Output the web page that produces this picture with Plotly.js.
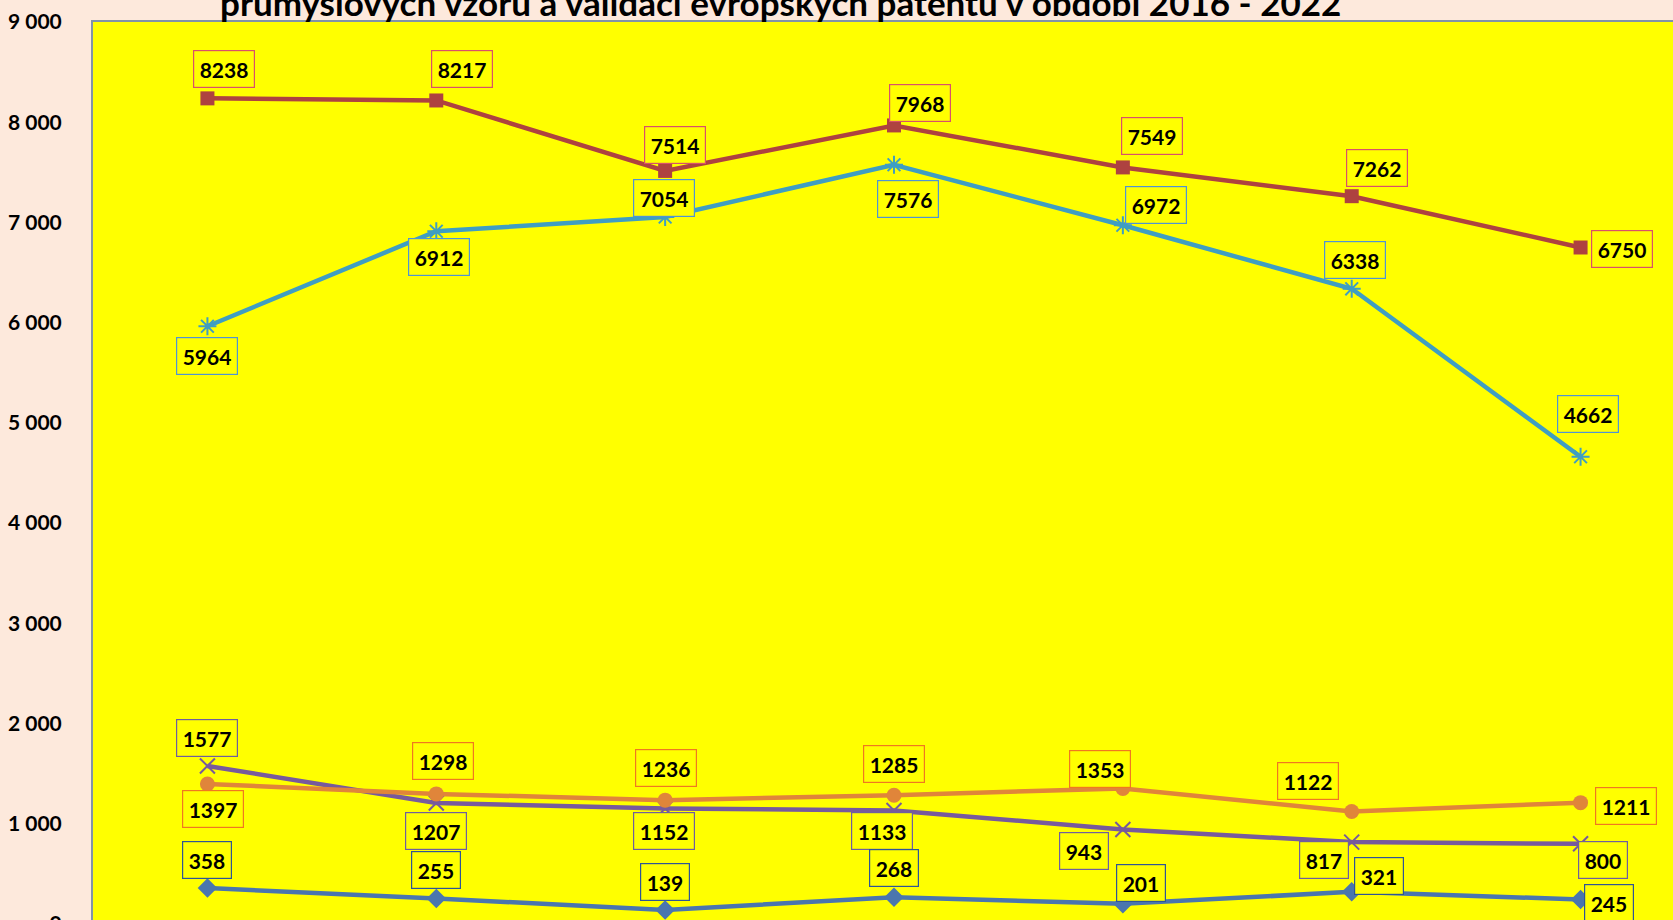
<!DOCTYPE html>
<html>
<head>
<meta charset="utf-8">
<script src="https://cdn.plot.ly/plotly-3.0.1.min.js"></script>
<style>
  html, body { margin: 0; padding: 0; overflow: hidden; background: #FDE9DC; }
  #chart { width: 1700px; height: 945px; }
</style>
</head>
<body>
<div id="chart"></div>
<script>
// ---- data ----
const categories = ['2016', '2017', '2018', '2019', '2020', '2021', '2022'];
const seriesRed    = [8238, 8217, 7514, 7968, 7549, 7262, 6750];
const seriesTeal   = [5964, 6912, 7054, 7576, 6972, 6338, 4662];
const seriesPurple = [1577, 1207, 1152, 1133, 943, 817, 800];
const seriesOrange = [1397, 1298, 1236, 1285, 1353, 1122, 1211];
const seriesBlue   = [358, 255, 139, 268, 201, 321, 245];
const yTickValues  = [0, 1000, 2000, 3000, 4000, 5000, 6000, 7000, 8000, 9000];
const titleText = 'průmyslových vzorů a validací evropských patentů v období 2016 - 2022';

// category positions on the axis (index of each category)
const xIndex = categories.map((c, i) => i);

// ---- styles / label placement (pixel offsets, screen: +x right, +y down) ----
const styles = [
  { values: seriesRed,    line: '#AE4240', marker: 'square',          size: 14, labelBorder: '#D9506A',
    off: [[17,-29],[26,-31],[10,-26],[26,-22],[29,-31],[25,-28],[41,1]] },
  { values: seriesTeal,   line: '#3F9EC2', marker: 'asterisk-open',   size: 15, labelBorder: '#4F94D4',
    off: [[0,30],[3,26],[-1,-19],[14,34],[33,-20],[3,-29],[7,-43]] },
  { values: seriesPurple, line: '#775A9C', marker: 'x-thin-open',     size: 15, labelBorder: '#6F5E9E',
    off: [[0,-28],[0,28],[-1,22],[-12,21],[-39,22],[-28,18],[22,16]] },
  { values: seriesOrange, line: '#E0853A', marker: 'circle',          size: 15, labelBorder: '#F07820',
    off: [[6,25],[7,-33],[1,-32],[0,-31],[-23,-19],[-44,-31],[45,3]] },
  { values: seriesBlue,   line: '#4A76AE', marker: 'diamond',         size: 15, labelBorder: '#2E5597',
    off: [[0,-28],[0,-28],[0,-28],[0,-29],[18,-21],[27,-16],[28,4]] }
];

const traces = styles.map((s, i) => ({
  type: 'scatter',
  mode: 'lines+markers',
  name: 'Řada ' + (i + 1),
  x: xIndex,
  y: s.values,
  line: { color: s.line, width: 4.5 },
  marker: {
    symbol: s.marker, size: s.size, color: s.line,
    line: { color: s.line, width: s.marker.indexOf('open') >= 0 ? 2 : 0 }
  },
  cliponaxis: false
}));

const annotations = [];
styles.forEach(s => {
  s.values.forEach((v, j) => {
    annotations.push({
      x: xIndex[j], y: v, xref: 'x', yref: 'y',
      text: '<b>' + v + '</b>', showarrow: false,
      xanchor: 'center', yanchor: 'middle',
      xshift: s.off[j][0], yshift: -s.off[j][1],
      font: { family: 'Lato, sans-serif', size: 21, color: '#000000' },
      bgcolor: '#FFFF00', bordercolor: s.labelBorder, borderwidth: 1.2, borderpad: 5.5
    });
  });
});

// partially visible chart title (second line)
annotations.push({
  xref: 'paper', yref: 'paper', x: 0.429, y: 1, xanchor: 'center', yanchor: 'bottom',
  yshift: -3, showarrow: false, text: '<b>' + titleText + '</b>',
  font: { family: 'Lato, sans-serif', size: 35, color: '#000000' }
});

const layout = {
  width: 1700, height: 945,
  margin: { l: 93, r: 5, t: 22, b: 21 },
  paper_bgcolor: '#FDE9DC',
  plot_bgcolor: '#FFFF00',
  separators: ', ',
  showlegend: false,
  xaxis: {
    range: [-0.5, 6.5], tickvals: xIndex, ticktext: categories,
    showgrid: false, zeroline: false,
    showline: true, linecolor: '#8193A8', linewidth: 2, mirror: true,
    showticklabels: false, ticks: ''
  },
  yaxis: {
    range: [0, 9000], tickvals: yTickValues, tickformat: ',d',
    showgrid: false, zeroline: false,
    showline: true, linecolor: '#8193A8', linewidth: 2, mirror: true,
    ticks: '', ticklabelstandoff: 25,
    tickfont: { family: 'Lato, sans-serif', size: 21, color: '#000000', weight: 'bold' }
  },
  annotations: annotations
};

Plotly.newPlot('chart', traces, layout, { displayModeBar: false, staticPlot: true });
</script>
</body>
</html>
